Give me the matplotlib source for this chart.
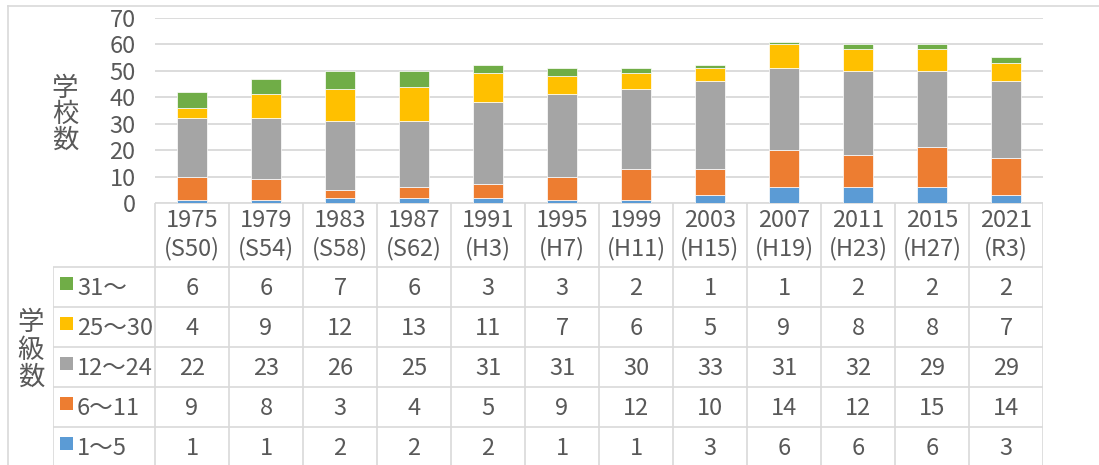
import matplotlib
matplotlib.use("Agg")
import matplotlib.pyplot as plt
from matplotlib.lines import Line2D
from matplotlib.patches import Rectangle
import numpy as np

# ---------------- data ----------------
years = ["1975", "1979", "1983", "1987", "1991", "1995", "1999", "2003", "2007", "2011", "2015", "2021"]
eras = ["(S50)", "(S54)", "(S58)", "(S62)", "(H3)", "(H7)", "(H11)", "(H15)", "(H19)", "(H23)", "(H27)", "(R3)"]
series_labels = ["1～5", "6～11", "12～24", "25～30", "31～"]   # stacking order bottom -> top
s_1_5 = [1, 1, 2, 2, 2, 1, 1, 3, 6, 6, 6, 3]
s_6_11 = [9, 8, 3, 4, 5, 9, 12, 10, 14, 12, 15, 14]
s_12_24 = [22, 23, 26, 25, 31, 31, 30, 33, 31, 32, 29, 29]
s_25_30 = [4, 9, 12, 13, 11, 7, 6, 5, 9, 8, 8, 7]
s_31 = [6, 6, 7, 6, 3, 3, 2, 1, 1, 2, 2, 2]
series_values = [s_1_5, s_6_11, s_12_24, s_25_30, s_31]
colors = ["#5B9BD5", "#ED7D31", "#A5A5A5", "#FFC000", "#70AD47"]
yticks = [0, 10, 20, 30, 40, 50, 60, 70]
ylabel = "学校数"
rowlabel = "学級数"

# ---------------- style ----------------
W, H = 1099, 465
TXT = "#595959"
GRID = "#d9d9d9"
NUMFONT = ["Liberation Sans Narrow", "Noto Sans CJK JP", "DejaVu Sans"]
JPFONT = ["Noto Sans CJK JP", "DejaVu Sans"]

fig = plt.figure(figsize=(W / 100, H / 100), dpi=100)
fig.patch.set_facecolor("white")

def fx(x):
    return x / W

def fy(y):
    return 1 - y / H

# plot area (pixel layout)
L, R = 155, 1043
TOP, BOT = 17.7, 203
n = len(years)
colw = (R - L) / n

ax = fig.add_axes([fx(L), fy(BOT), (R - L) / W, (BOT - TOP) / H])
x = np.arange(n)
bottom = np.zeros(n)
for vals, c in zip(series_values, colors):
    ax.bar(x, vals, bottom=bottom, width=0.41, color=c, edgecolor="white", linewidth=0.5, zorder=3)
    bottom += np.array(vals)
ax.set_xlim(-0.5, n - 0.5)
ax.set_ylim(0, 70)
ax.set_yticks(yticks)
ax.set_yticklabels([str(t) for t in yticks], family=NUMFONT, fontsize=17, color=TXT)
ax.tick_params(axis="y", length=0, pad=14)
ax.tick_params(axis="x", bottom=False, labelbottom=False)
ax.grid(axis="y", color=GRID, linewidth=1.3, zorder=0)
for s in ax.spines.values():
    s.set_visible(False)

# y label (vertical stacked characters)
for i, ch in enumerate(ylabel):
    fig.text(fx(65), fy(88 + 26 * i), ch, family=JPFONT, fontsize=19, color=TXT,
             ha="center", va="center")

# ---------------- data table ----------------
TL = 53
hdr = 64 / 40.0           # header height in row units
nrows = len(series_labels)
tab_bottom_px = BOT + 64 + 40 * nrows
lab_w = (L - TL) / colw
tab = fig.add_axes([fx(TL), fy(tab_bottom_px), (R - TL) / W, (tab_bottom_px - BOT) / H])
tab.set_xlim(-0.5 - lab_w, n - 0.5)
tab.set_ylim(hdr + nrows, 0)
tab.axis("off")
lc = dict(color=GRID, linewidth=1.2, solid_capstyle="butt")

# vertical lines
for i in range(n + 1):
    tab.plot([i - 0.5, i - 0.5], [0, hdr + nrows], **lc)
tab.plot([-0.5 - lab_w, -0.5 - lab_w], [hdr, hdr + nrows], **lc)
# horizontal lines
tab.plot([-0.5, n - 0.5], [0, 0], **lc)
for r in range(nrows + 1):
    tab.plot([-0.5 - lab_w, n - 0.5], [hdr + r, hdr + r], **lc)

# header texts
for i in range(n):
    tab.text(i, 17 / 40, years[i], family=NUMFONT, fontsize=17, color=TXT, ha="center", va="center")
    tab.text(i, 46 / 40, eras[i], family=NUMFONT, fontsize=17, color=TXT, ha="center", va="center")

# rows (top -> bottom: reverse of stacking)
order = list(range(nrows))[::-1]
sq_w = 13 / colw
sq_h = 13 / 40
for r, k in enumerate(order):
    yc = hdr + r + 0.5
    tab.add_patch(Rectangle((-0.5 - lab_w + 7 / colw, yc - 0.1 - sq_h / 2), sq_w, sq_h,
                            facecolor=colors[k], edgecolor="none"))
    tab.text(-0.5 - lab_w + 24 / colw, yc + 0.03, series_labels[k], family=NUMFONT, fontsize=17,
             color=TXT, ha="left", va="center")
    for i in range(n):
        tab.text(i, yc + 0.03, str(series_values[k][i]), family=NUMFONT, fontsize=17,
                 color=TXT, ha="center", va="center")

# row label (vertical stacked characters)
for i, ch in enumerate(rowlabel):
    fig.text(fx(31), fy(323 + 27 * i), ch, family=JPFONT, fontsize=19, color=TXT,
             ha="center", va="center")

# outer chart border
fig.add_artist(Line2D([fx(8), 1], [fy(6), fy(6)], color=GRID, linewidth=1.2))
fig.add_artist(Line2D([fx(8), fx(8)], [fy(6), 0], color=GRID, linewidth=1.2))

fig.savefig("out.png", dpi=100, facecolor="white")
